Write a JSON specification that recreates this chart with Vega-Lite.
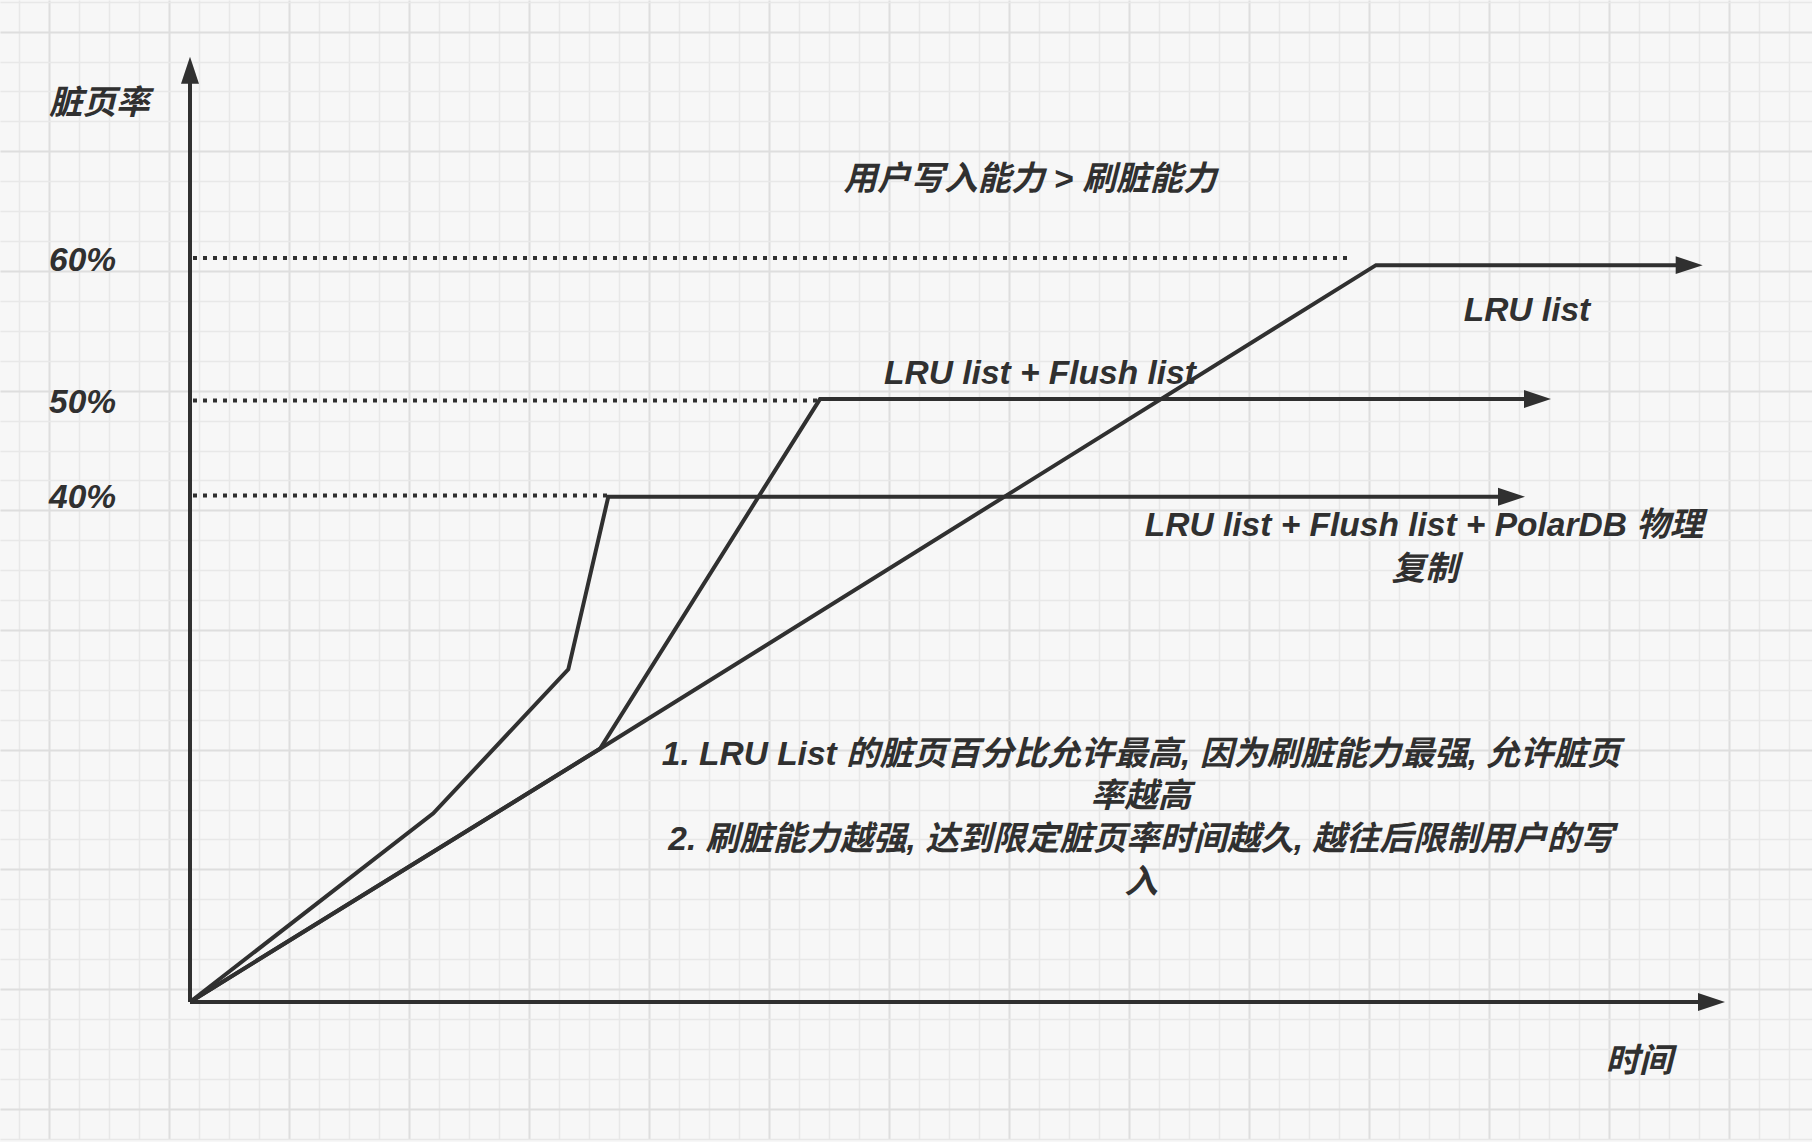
{
  "$schema": "https://vega.github.io/schema/vega-lite/v6.json",
  "width": 1812,
  "height": 1142,
  "autosize": {"type": "fit", "contains": "padding"},
  "padding": 0,
  "background": "#f7f7f7",
  "config": {"view": {"stroke": null}},
  "layer": [
    {
      "data": {"values": [{"gx": 0, "gy": 0}]},
      "mark": {"type": "point", "opacity": 0},
      "encoding": {
        "x": {
          "field": "gx", "type": "quantitative",
          "scale": {"domain": [-0.63333, 59.76667], "nice": false, "zero": false},
          "axis": {
            "grid": true, "labels": false, "ticks": false, "domain": false, "title": null,
            "values": [0,1,2,3,4,5,6,7,8,9,10,11,12,13,14,15,16,17,18,19,20,21,22,23,24,25,26,27,28,29,30,31,32,33,34,35,36,37,38,39,40,41,42,43,44,45,46,47,48,49,50,51,52,53,54,55,56,57,58,59],
            "gridColor": {"condition": {"test": "datum.value % 4 === 1", "value": "#dedede"}, "value": "#e8e8e8"},
            "gridWidth": {"condition": {"test": "datum.value % 4 === 1", "value": 2}, "value": 1.5},
            "gridOpacity": 1
          }
        },
        "y": {
          "field": "gy", "type": "quantitative",
          "scale": {"domain": [-0.01, 38.05667], "nice": false, "zero": false},
          "axis": {
            "grid": true, "labels": false, "ticks": false, "domain": false, "title": null,
            "values": [0,1,2,3,4,5,6,7,8,9,10,11,12,13,14,15,16,17,18,19,20,21,22,23,24,25,26,27,28,29,30,31,32,33,34,35,36,37,38],
            "gridColor": {"condition": {"test": "datum.value % 4 === 1", "value": "#dedede"}, "value": "#e8e8e8"},
            "gridWidth": {"condition": {"test": "datum.value % 4 === 1", "value": 2}, "value": 1.5},
            "gridOpacity": 1
          }
        }
      }
    },
    {
      "encoding": {
        "x": {
          "field": "t", "type": "quantitative",
          "scale": {"domain": [-19, 162.2], "nice": false, "zero": false},
          "axis": null
        },
        "y": {
          "field": "r", "type": "quantitative",
          "scale": {"domain": [0, 40, 50, 60], "range": [1002, 495.5, 400.5, 258], "nice": false, "zero": false},
          "axis": null
        }
      },
      "layer": [
        {
          "data": {"values": [
            {"series": "60%", "i": 0, "t": 0.3, "r": 60},
            {"series": "60%", "i": 1, "t": 116.3, "r": 60},
            {"series": "50%", "i": 0, "t": 0.3, "r": 50},
            {"series": "50%", "i": 1, "t": 63.0, "r": 50},
            {"series": "40%", "i": 0, "t": 0.3, "r": 40},
            {"series": "40%", "i": 1, "t": 41.8, "r": 40}
          ]},
          "mark": {"type": "line", "color": "#303030", "strokeWidth": 4, "strokeDash": [4, 6]},
          "encoding": {
            "detail": {"field": "series"},
            "order": {"field": "i", "type": "quantitative"}
          }
        },
        {
          "data": {"values": [
            {"series": "时间轴", "i": 0, "t": 0, "r": 0},
            {"series": "时间轴", "i": 1, "t": 152.0, "r": 0},
            {"series": "脏页率轴", "i": 0, "t": 0, "r": 0},
            {"series": "脏页率轴", "i": 1, "t": 0, "r": 73.0},
            {"series": "LRU list", "i": 0, "t": 0, "r": 0},
            {"series": "LRU list", "i": 1, "t": 41.0, "r": 20.0},
            {"series": "LRU list", "i": 2, "t": 118.6, "r": 59.5},
            {"series": "LRU list", "i": 3, "t": 150.0, "r": 59.5},
            {"series": "LRU list + Flush list", "i": 0, "t": 0, "r": 0},
            {"series": "LRU list + Flush list", "i": 1, "t": 41.0, "r": 20.0},
            {"series": "LRU list + Flush list", "i": 2, "t": 63.0, "r": 50.1},
            {"series": "LRU list + Flush list", "i": 3, "t": 134.8, "r": 50.1},
            {"series": "LRU list + Flush list + PolarDB", "i": 0, "t": 0, "r": 0},
            {"series": "LRU list + Flush list + PolarDB", "i": 1, "t": 24.33, "r": 14.9},
            {"series": "LRU list + Flush list + PolarDB", "i": 2, "t": 37.83, "r": 26.27},
            {"series": "LRU list + Flush list + PolarDB", "i": 3, "t": 41.83, "r": 39.9},
            {"series": "LRU list + Flush list + PolarDB", "i": 4, "t": 132.2, "r": 39.9}
          ]},
          "mark": {"type": "line", "color": "#303030", "strokeWidth": 4, "strokeJoin": "miter"},
          "encoding": {
            "detail": {"field": "series"},
            "order": {"field": "i", "type": "quantitative"}
          }
        },
        {
          "data": {"values": [
            {"series": "时间轴", "dir": "right", "t": 153.5, "r": 0},
            {"series": "脏页率轴", "dir": "up", "t": 0, "r": 74.13},
            {"series": "LRU list", "dir": "right", "t": 151.27, "r": 59.5},
            {"series": "LRU list + Flush list", "dir": "right", "t": 136.1, "r": 50.1},
            {"series": "LRU list + Flush list + PolarDB", "dir": "right", "t": 133.5, "r": 39.9}
          ]},
          "mark": {"type": "point", "filled": true, "size": 2916, "color": "#303030", "opacity": 1, "strokeWidth": 0},
          "encoding": {
            "shape": {
              "field": "dir", "type": "nominal",
              "scale": {"domain": ["right", "up"], "range": ["M0,0 L-1,-0.3333 L-1,0.3333 Z", "M0,0 L-0.3333,1 L0.3333,1 Z"]},
              "legend": null
            }
          }
        },
        {
          "data": {"values": [
            {"label": "脏页率", "t": -14.1, "r": 70.95},
            {"label": "60%", "t": -14.1, "r": 60},
            {"label": "50%", "t": -14.1, "r": 50},
            {"label": "40%", "t": -14.1, "r": 40}
          ]},
          "mark": {"type": "text", "align": "left", "baseline": "middle", "dy": 2.5, "font": "Liberation Sans, Noto Sans CJK SC", "fontSize": 33.5, "fontWeight": "bold", "fontStyle": "italic", "color": "#303030"},
          "encoding": {"text": {"field": "label"}}
        },
        {
          "data": {"values": [
            {"label": "用户写入能力 > 刷脏能力", "t": 84.0, "r": 65.65},
            {"label": "LRU list", "t": 133.7, "r": 56.44},
            {"label": "LRU list + Flush list", "t": 85.0, "r": 52.07},
            {"label": "LRU list + Flush list + PolarDB 物理", "t": 123.4, "r": 37.75},
            {"label": "复制", "t": 123.5, "r": 34.35},
            {"label": "1. LRU List 的脏页百分比允许最高, 因为刷脏能力最强, 允许脏页", "t": 95.1, "r": 19.7},
            {"label": "率越高", "t": 95.1, "r": 16.35},
            {"label": "2. 刷脏能力越强, 达到限定脏页率时间越久, 越往后限制用户的写", "t": 95.1, "r": 13.03},
            {"label": "入", "t": 95.1, "r": 9.63},
            {"label": "时间", "t": 144.9, "r": -4.54}
          ]},
          "mark": {"type": "text", "align": "center", "baseline": "middle", "dy": 2.5, "font": "Liberation Sans, Noto Sans CJK SC", "fontSize": 33.5, "fontWeight": "bold", "fontStyle": "italic", "color": "#303030"},
          "encoding": {"text": {"field": "label"}}
        }
      ]
    }
  ],
  "resolve": {"scale": {"x": "independent", "y": "independent"}}
}
